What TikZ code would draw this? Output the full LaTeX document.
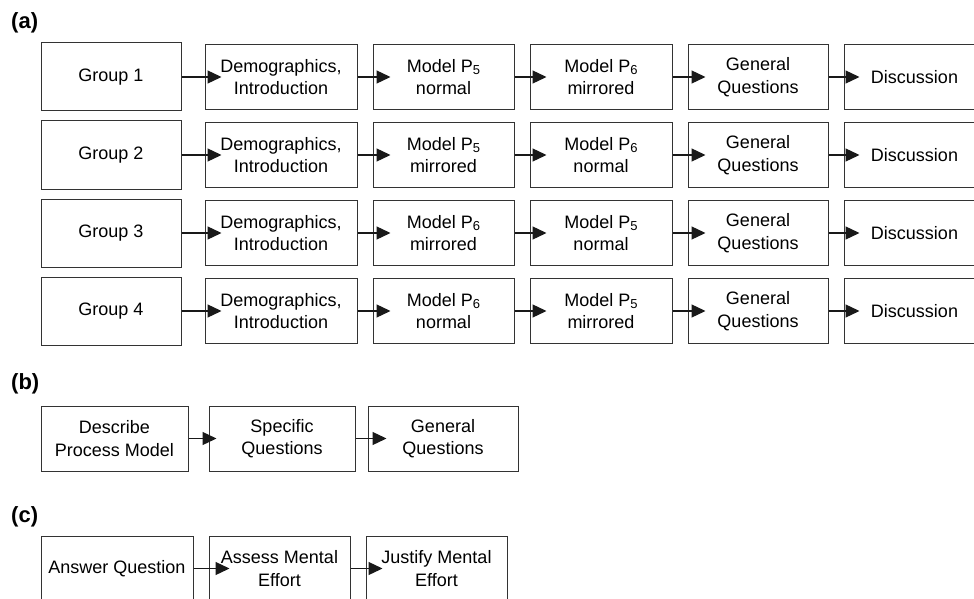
\documentclass[tikz,border=0pt]{standalone}
\usepackage{fontspec}
\setmainfont{Liberation Sans}
\usetikzlibrary{arrows.meta}
\newcommand{\subn}[1]{\raisebox{-2pt}{\fontsize{13}{13}\selectfont #1}}
\begin{document}
\begin{tikzpicture}[x=1pt,y=-1pt,
  box/.style={draw=black!80, line width=1pt, inner sep=0pt, minimum height=65pt,
    align=center, text=black, font=\fontsize{18}{22.5}\selectfont},
  grp/.style={box, minimum height=68pt},
  lab/.style={anchor=west, inner sep=0pt, text=black, font=\fontsize{22}{22}\selectfont\bfseries},
  arr/.style={draw=black!90, line width=1.3pt, -{Triangle[length=14pt,width=13pt]}}]
\clip (0,0) rectangle (974,599);
\fill[white] (0,0) rectangle (974,599);

\node[lab] (la) at (11,23) {(a)};
\node[lab] (lb) at (11,384) {(b)};
\node[lab] (lc) at (11,517) {(c)};

% part (a)
\foreach \r/\y/\ma/\mb in {1/77/{Model P\subn{5}\\normal}/{Model P\subn{6}\\mirrored},
                          2/155/{Model P\subn{5}\\mirrored}/{Model P\subn{6}\\normal},
                          3/233/{Model P\subn{6}\\mirrored}/{Model P\subn{5}\\normal},
                          4/311/{Model P\subn{6}\\normal}/{Model P\subn{5}\\mirrored}}{
  \node[grp, minimum width=140pt] (g\r) at (111,\y) {Group \r};
  \node[box, minimum width=152pt] (d\r) at (281,\y) {Demographics,\\Introduction};
  \node[box, minimum width=141pt] (ma\r) at (443.5,\y) {\ma};
  \node[box, minimum width=142pt] (mb\r) at (601,\y) {\mb};
  \node[box, minimum width=140pt] (q\r) at (758,\y) {General\\Questions};
  \node[box, minimum width=141pt] (x\r) at (914.5,\y) {Discussion};
  \draw[arr] (g\r.east) -- ([xshift=17pt]d\r.west);
  \draw[arr] (d\r.east) -- ([xshift=18pt]ma\r.west);
  \draw[arr] (ma\r.east) -- ([xshift=17pt]mb\r.west);
  \draw[arr] (mb\r.east) -- ([xshift=18pt]q\r.west);
  \draw[arr] (q\r.east) -- ([xshift=16pt]x\r.west);
}

% part (b)
\node[box, minimum width=147pt] (b1) at (114.5,438.5) {Describe\\Process Model};
\node[box, minimum width=146pt] (b2) at (282,438.5) {Specific\\Questions};
\node[box, minimum width=150pt] (b3) at (443,438.5) {General\\Questions};
\draw[arr] (b1.east) -- ([xshift=8pt]b2.west);
\draw[arr] (b2.east) -- ([xshift=19pt]b3.west);

% part (c)
\node[box, minimum width=152pt] (c1) at (117,568.5) {Answer Question};
\node[box, minimum width=141pt] (c2) at (279.5,568.5) {Assess Mental\\Effort};
\node[box, minimum width=141pt] (c3) at (436.5,568.5) {Justify Mental\\Effort};
\draw[arr] (c1.east) -- ([xshift=21pt]c2.west);
\draw[arr] (c2.east) -- ([xshift=17pt]c3.west);
\end{tikzpicture}
\end{document}
